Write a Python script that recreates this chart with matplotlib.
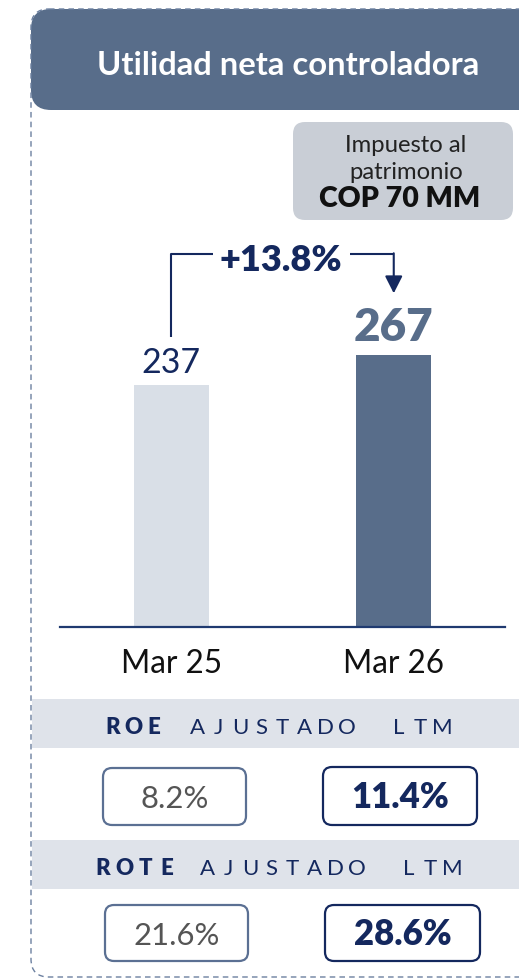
import matplotlib
matplotlib.use("Agg")
import matplotlib.pyplot as plt
from matplotlib.patches import FancyBboxPatch, Rectangle

plt.rcParams['font.family'] = ['Lato', 'DejaVu Sans']

# ---------------- data ----------------
title = "Utilidad neta controladora"
categories = ["Mar 25", "Mar 26"]
values = [237, 267]
growth_label = "+13.8%"
note_lines = ["Impuesto al", "patrimonio", "COP 70 MM"]
roe_label = ("ROE", "AJUSTADO LTM")
roe_values = ["8.2%", "11.4%"]
rote_label = ("ROTE", "AJUSTADO LTM")
rote_values = ["21.6%", "28.6%"]

# ---------------- style ----------------
SLATE = "#586D8A"
LIGHT_BAR = "#D9DFE7"
NAVY = "#14285E"
BAND = "#DFE3EA"
NOTE_BG = "#C9CED6"
BOX_EDGE_1 = "#5B7093"
GREY_TXT = "#555555"
BORDER = "#6C80A0"

W, H = 519, 979
fig = plt.figure(figsize=(W / 100, H / 100), dpi=100)

# overlay in pixel coordinates
ov = fig.add_axes([0, 0, 1, 1])
ov.set_xlim(0, W)
ov.set_ylim(H, 0)
ov.axis("off")

# header
ov.add_patch(FancyBboxPatch((31, 10), 560 - 31, 101,
                            boxstyle="round,pad=0,rounding_size=20",
                            fc=SLATE, ec="none", zorder=1))
# dashed outer border
ov.add_patch(FancyBboxPatch((31, 10), 560 - 31, 968,
                            boxstyle="round,pad=0,rounding_size=18",
                            fill=False, ec=BORDER, lw=1.0,
                            linestyle=(0, (4, 3)), zorder=2))
ov.text(288.5, 75, title, color="white", fontsize=23.6, fontweight="bold",
        ha="center", va="baseline", zorder=3)

# note box
ov.add_patch(FancyBboxPatch((293, 123), 513 - 293, 98,
                            boxstyle="round,pad=0,rounding_size=12",
                            fc=NOTE_BG, ec="none", zorder=1))
ov.text(406, 152, note_lines[0], color="#222222", fontsize=17.2,
        ha="center", va="baseline")
ov.text(406, 179, note_lines[1], color="#222222", fontsize=17.2,
        ha="center", va="baseline")
ov.text(400, 207, note_lines[2], color="#111111", fontsize=20.5,
        fontweight="heavy", ha="center", va="baseline")

# bands
for top, bot in [(700, 749), (841, 890)]:
    ov.add_patch(Rectangle((32, top), W - 32, bot - top, fc=BAND, ec="none",
                           zorder=1))


def spaced(y, bold_part, rest, xb, bstep, xr, rstep=21.3, gap=52):
    for i, ch in enumerate(bold_part):
        ov.text(xb + i * bstep, y, ch, color=NAVY, fontsize=16,
                fontweight="heavy", ha="center", va="baseline")
    xpos = xr
    for w_i, word in enumerate(rest.split(" ")):
        for j, ch in enumerate(word):
            ov.text(xpos, y, ch, color=NAVY, fontsize=16,
                    ha="center", va="baseline")
            if j < len(word) - 1:
                xpos += rstep if ch != "T" or w_i == 0 else rstep + 1.5
        xpos += gap


spaced(734, roe_label[0], roe_label[1], xb=113, bstep=20.5, xr=197.5)
spaced(875, rote_label[0], rote_label[1], xb=103, bstep=21.3, xr=207.5)


def value_box(x0, x1, y0, y1, txt, base, strong):
    ov.add_patch(FancyBboxPatch((x0, y0), x1 - x0, y1 - y0,
                                boxstyle="round,pad=0,rounding_size=9",
                                fc="white",
                                ec=NAVY if strong else BOX_EDGE_1,
                                lw=1.6, zorder=2))
    ov.text((x0 + x1) / 2, base, txt,
            color=NAVY if strong else GREY_TXT,
            fontsize=25 if strong else 22.3,
            fontweight="heavy" if strong else "normal",
            ha="center", va="baseline", zorder=3)


value_box(103, 246, 769, 826, roe_values[0], 808, False)
value_box(323, 477, 768, 826, roe_values[1], 808, True)
value_box(105, 248, 906, 962, rote_values[0], 945, False)
value_box(325, 480, 906, 962, rote_values[1], 945, True)

# ---------------- bar chart ----------------
base_px, top_px = 628, 230
left_px, right_px = 60, 505
ax = fig.add_axes([left_px / W, (H - base_px) / H,
                   (right_px - left_px) / W, (base_px - top_px) / H])
ax.set_facecolor("none")
ax.set_xlim(-0.5, 1.5)
ax.set_ylim(0, 390)
x = list(range(len(categories)))
ax.bar(x, values, width=0.337, color=[LIGHT_BAR, SLATE], zorder=2)
for s in ["top", "left", "right"]:
    ax.spines[s].set_visible(False)
ax.spines["bottom"].set_color("#1F3A70")
ax.spines["bottom"].set_linewidth(1.6)
ax.set_yticks([])
ax.set_xticks(x)
ax.set_xticklabels([])
ax.tick_params(axis="x", length=0)
for xi, c in zip(x, categories):
    ax.annotate(c, (xi, 0), xytext=(0, -32.4), textcoords="offset points",
                ha="center", va="baseline", fontsize=22.7, color="#111111",
                annotation_clip=False)

ax.annotate(str(values[0]), (x[0], values[0]), xytext=(0, 9.4),
            textcoords="offset points", ha="center", va="baseline",
            fontsize=24.5, color=NAVY)
ax.annotate(str(values[1]), (x[1], values[1]), xytext=(0, 10.1),
            textcoords="offset points", ha="center", va="baseline",
            fontsize=33, fontweight="heavy", color=SLATE)

# growth connector
start_y = values[0] + 47
top_y = max(values) + 98.5
tip_y = values[1] + 60
ax.plot([x[0], x[0], 0.187], [start_y, top_y, top_y], color=NAVY, lw=1.5,
        solid_capstyle="butt", clip_on=False)
ax.plot([0.802, x[1]], [top_y, top_y], color=NAVY, lw=1.5,
        solid_capstyle="butt", clip_on=False)
ax.annotate("", xy=(x[1], tip_y), xytext=(x[1], top_y + 0.7),
            arrowprops=dict(arrowstyle="-|>,head_length=0.75,head_width=0.38",
                            mutation_scale=14, color=NAVY, lw=1.5,
                            shrinkA=0, shrinkB=0),
            annotation_clip=False)
ax.annotate(growth_label, ((0.187 + 0.802) / 2, top_y),
            xytext=(0, -11.2), textcoords="offset points",
            ha="center", va="baseline", fontsize=26, fontweight="heavy",
            color=NAVY, annotation_clip=False)

fig.savefig("out.png", dpi=100)
